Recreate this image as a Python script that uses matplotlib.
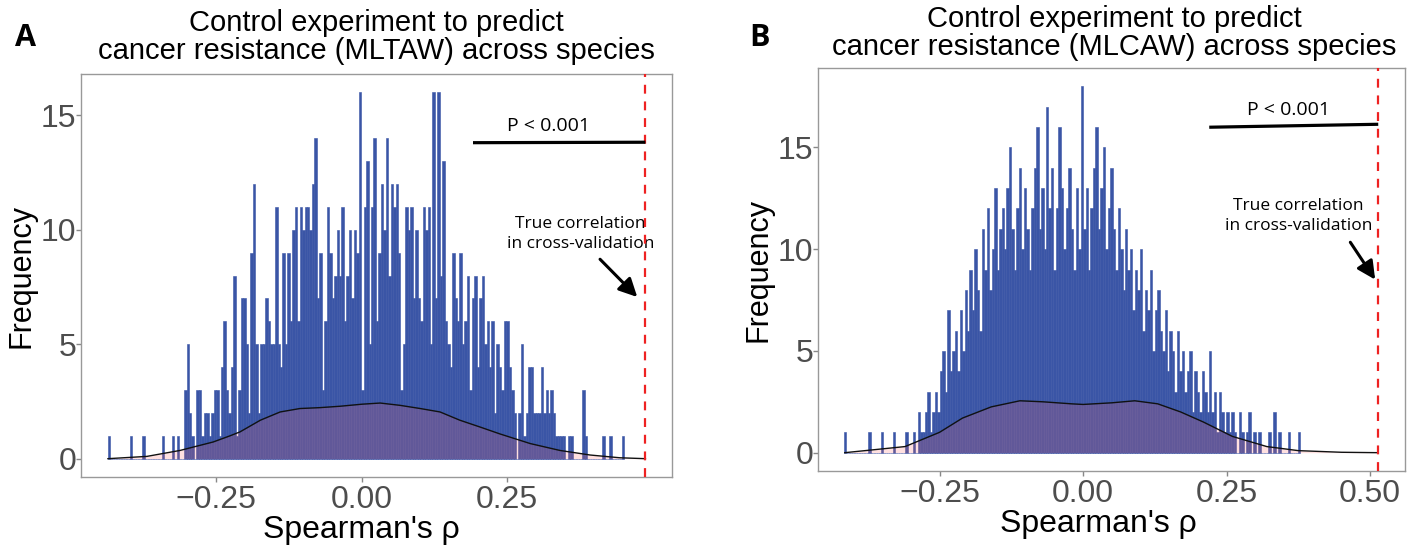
import numpy as np
import matplotlib
matplotlib.use('Agg')
import matplotlib.pyplot as plt
from matplotlib import font_manager

# ---------------- data ----------------
# Panel A: histogram counts of permuted Spearman correlations (consecutive bins)
counts_a = [1,0,0,0,0,0,0,0,0,1, 0,0,0,0,1,0,0,0,0,0, 0,0,1,0,0,0,1,0,1,0, 0,3,5,
            2,1,0,3,3,1,2,2,1,2,3,3,1,4,6,3,2,4,8,1,3,7,7,5,2,9,12,5,2,5,5,7,6,5,5,11,
            5,4,9,5,9,6,10,11,6,11,10,11,11,10,12,14,7,9,3,6,11,9,7,8,10,8,11,6,8,10,7,10,9,16,3,11,
            13,5,11,14,6,9,12,10,14,8,12,11,12,9,3,5,11,10,11,7,10,7,6,11,10,11,5,16,7,16,8,13,6,5,
            4,9,7,6,9,5,6,8,3,7,8,4,7,8,5,6,4,6,2,5,4,3,6,6,4,3,2,0,2,5,1,2,4,4,2,2,
            2,4,2,3,2,3,2,1,1,1,1,0,1,1,0,0,0,0,3,1,0,0,0,0,0,0,1,0,0,1,0,0,0,0,1]
a_first_center = -0.434
a_bin_width = 0.004227

# Panel A: density curve (density units)
dens_a_x = [-0.436,-0.369,-0.312,-0.255,-0.226,-0.209,-0.174,-0.140,-0.106,-0.071,-0.037,
            0.001,0.032,0.066,0.101,0.135,0.169,0.204,0.238,0.290,0.341,0.393,0.444,0.488]
dens_a_y = [0.0,0.10,0.36,0.73,1.00,1.17,1.68,2.04,2.19,2.23,2.29,
            2.38,2.43,2.33,2.19,2.04,1.68,1.38,1.08,0.66,0.36,0.16,0.04,0.0]
true_a = 0.488

# Panel B: histogram counts (consecutive bins)
counts_b = [1,0,0,0,0,0,0,0,0,0, 1,0,0,0,0,1,0,0,0,0, 1,0,0,0,0,1,0,0,1,0,
            2,1,1,2,3,1,2,3,2,4, 5,3,7,4,5,6,4,7,5,8, 6,9,7,10,8,6,11,9,12,8,
            10,13,9,11,12,10,13,15,11,9, 12,14,10,13,11,9,12,14,16,11, 13,10,17,12,14,9,12,16,13,10,
            12,14,11,9,13,10,18,11,13,9, 12,14,16,11,13,15,10,12,14,11, 9,12,10,8,11,9,10,7,9,8,
            10,6,8,7,9,5,7,8,6,5, 7,4,6,5,3,6,4,5,3,4, 5,2,4,3,2,4,3,2,5,2,
            3,1,3,2,1,2,1,2,1,0, 2,1,0,1,2,0,1,0,1,0, 0,0,1,0,2,0,1,0,0,0,
            1,0,0,0,1]
b_first_center = -0.415
b_bin_width = 0.0043

dens_b_x = [-0.415,-0.31,-0.25,-0.21,-0.16,-0.11,-0.07,-0.02,0.0,0.05,0.09,0.13,0.17,0.21,0.26,0.32,0.375,0.45,0.514]
dens_b_y = [0.0,0.30,1.00,1.70,2.25,2.55,2.50,2.40,2.37,2.45,2.55,2.40,2.00,1.50,0.80,0.30,0.10,0.02,0.0]
true_b = 0.514

titles = ["Control experiment to predict\ncancer resistance (MLTAW) across species",
          "Control experiment to predict\ncancer resistance (MLCAW) across species"]
panel_letters = ["A", "B"]

# ---------------- style ----------------
W, H = 1408, 546
fig = plt.figure(figsize=(W/100, H/100), dpi=100)

avail = {f.name for f in font_manager.fontManager.ttflist}
main_font = 'Liberation Sans Narrow' if 'Liberation Sans Narrow' in avail else 'Liberation Sans'
ann_font = 'Open Sans'

BAR = '#3a55a6'
GREY = '#4d4d4d'

def px(x0, y0, x1, y1):
    return [x0/W, 1-y1/H, (x1-x0)/W, (y1-y0)/H]

axA = fig.add_axes(px(81, 74, 672, 477))
axB = fig.add_axes(px(818, 68, 1405, 471))

def draw(ax, counts, c0, bw, dx, dy, true_x, xlim, ylim, yticks, xticks, xticklabels, xlab_pos):
    counts = np.asarray(counts, float)
    centers = c0 + bw*np.arange(len(counts))
    ax.bar(centers, counts, width=bw, color=BAR, edgecolor=BAR, linewidth=0.4, zorder=2)
    ax.fill_between(dx, dy, 0, color='#FF6666', alpha=0.2, linewidth=0, zorder=3)
    ax.plot(dx, dy, color='#111111', lw=1.0, zorder=4)
    ax.axvline(true_x, color='#ee2222', lw=1.6, ls=(0, (4, 3.5)), zorder=5)
    ax.set_xlim(*xlim)
    ax.set_ylim(*ylim)
    ax.set_yticks(yticks)
    ax.set_yticklabels([str(t) for t in yticks], fontsize=23, color=GREY, family=main_font)
    ax.set_xticks(xticks)
    ax.set_xticklabels(xticklabels, fontsize=23, color=GREY, family=main_font)
    ax.tick_params(length=3.5, width=1, color='#888888')
    ax.tick_params(axis='y', pad=0)
    ax.tick_params(axis='x', pad=2)
    for s in ax.spines.values():
        s.set_color('#999999')
        s.set_linewidth(1.0)
    ax.set_xlabel("Spearman's ρ", fontsize=23, family=main_font)
    ax.xaxis.set_label_coords(xlab_pos, -0.095)
    ax.set_ylabel("Frequency", fontsize=22, family=main_font, labelpad=3)

draw(axA, counts_a, a_first_center, a_bin_width, dens_a_x, dens_a_y, true_a,
     (-0.4823, 0.5337), (-0.8, 16.8), [0, 5, 10, 15], [-0.25, 0.0, 0.25],
     ['−0.25', '0.00', '0.25'], 0.475)
draw(axB, counts_b, b_first_center, b_bin_width, dens_b_x, dens_b_y, true_b,
     (-0.4616, 0.5606), (-0.9, 18.9), [0, 5, 10, 15], [-0.25, 0.0, 0.25, 0.50],
     ['−0.25', '0.00', '0.25', '0.50'], 0.478)

# titles
fig.text(376/W, 1-37/H, titles[0], ha='center', va='center', fontsize=21, family=main_font, linespacing=1.0)
fig.text(1114/W, 1-33/H, titles[1], ha='center', va='center', fontsize=21, family=main_font, linespacing=1.0)
fig.text(25/W, 1-38/H, panel_letters[0], fontsize=22, fontweight='bold', family=ann_font, ha='center', va='center')
fig.text(760/W, 1-38/H, panel_letters[1], fontsize=22, fontweight='bold', family=ann_font, ha='center', va='center')

arrow_style = dict(arrowstyle='-|>,head_length=1.1,head_width=0.55', color='black', lw=2.2,
                   shrinkA=0, shrinkB=0)

# annotations panel A
axA.plot([0.1916, true_a], [13.8, 13.82], color='black', lw=2.3, solid_capstyle='butt', zorder=6)
axA.text(0.322, 14.55, 'P < 0.001', ha='center', va='center', fontsize=14, family=ann_font)
axA.text(0.376, 9.82, 'True correlation\nin cross-validation', ha='center', va='center',
         fontsize=12.5, family=ann_font, linespacing=1.3)
axA.annotate('', xy=(0.474, 7.06), xytext=(0.41, 8.71), arrowprops=arrow_style)

# annotations panel B
yB = lambda y: (451-y)/20.7
xB = lambda x: (x-1083)/578
axB.plot([xB(1210), true_b], [yB(120), yB(117)], color='black', lw=2.3, solid_capstyle='butt', zorder=6)
axB.text(xB(1290), yB(102), 'P < 0.001', ha='center', va='center', fontsize=14, family=ann_font)
axB.text(xB(1300), yB(210), 'True correlation\nin cross-validation', ha='center', va='center',
         fontsize=12.5, family=ann_font, linespacing=1.3)
axB.annotate('', xy=(xB(1377), yB(275)), xytext=(xB(1352), yB(237)), arrowprops=arrow_style)

fig.savefig('out.png', dpi=100)
